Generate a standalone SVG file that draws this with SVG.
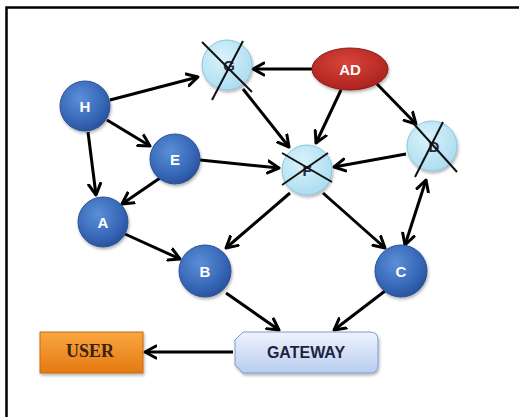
<svg xmlns="http://www.w3.org/2000/svg" width="519" height="417" viewBox="0 0 519 417">
<defs>
<radialGradient id="gBlue" cx="40%" cy="35%" r="70%">
<stop offset="0" stop-color="#5b8fd8"/>
<stop offset="0.7" stop-color="#3565b5"/>
<stop offset="1" stop-color="#274f98"/>
</radialGradient>
<radialGradient id="gLight" cx="40%" cy="35%" r="70%">
<stop offset="0" stop-color="#d8f3fb"/>
<stop offset="1" stop-color="#aadcef"/>
</radialGradient>
<radialGradient id="gRed" cx="45%" cy="35%" r="70%">
<stop offset="0" stop-color="#d9443b"/>
<stop offset="1" stop-color="#a8201b"/>
</radialGradient>
<linearGradient id="gOrange" x1="0" y1="0" x2="0" y2="1">
<stop offset="0" stop-color="#f9a640"/>
<stop offset="1" stop-color="#e47a12"/>
</linearGradient>
<linearGradient id="gGate" x1="0" y1="0" x2="0" y2="1">
<stop offset="0" stop-color="#eef3fd"/>
<stop offset="1" stop-color="#b9cdf0"/>
</linearGradient>
<filter id="sh" x="-30%" y="-30%" width="160%" height="160%">
<feDropShadow dx="1" dy="2" stdDeviation="1.5" flood-color="#000" flood-opacity="0.3"/>
</filter>
<marker id="ah" markerUnits="userSpaceOnUse" markerWidth="16" markerHeight="16" refX="12" refY="7" orient="auto-start-reverse" viewBox="0 0 16 14">
<path d="M1,1 L12,7 L1,13" fill="none" stroke="#000" stroke-width="3" stroke-linecap="round" stroke-linejoin="round"/>
</marker>
<style>
.edge{stroke:#000;stroke-width:3;fill:none;marker-end:url(#ah)}
.blue{fill:url(#gBlue);stroke:#2a5296;stroke-width:1;filter:url(#sh)}
.light{fill:url(#gLight);stroke:#8cc4dc;stroke-width:1;filter:url(#sh)}
.cross{stroke:#111;stroke-width:2;fill:none}
.lbl{font-family:"Liberation Sans",Arial,sans-serif;font-weight:bold;font-size:15px;fill:#fff;text-anchor:middle}
.dlbl{font-family:"Liberation Sans",Arial,sans-serif;font-weight:bold;font-size:15px;fill:#2a2a3a;text-anchor:middle}
</style>
</defs>
<rect x="0" y="0" width="519" height="417" fill="#fff"/>
<path d="M6.5,420 L6.5,7.5 L522,7.5" fill="none" stroke="#000" stroke-width="2.5"/>

<g id="connectors">
<line class="edge" x1="110" y1="100" x2="198" y2="77"/>
<line class="edge" x1="107" y1="120" x2="150" y2="146"/>
<line class="edge" x1="88" y1="132" x2="96" y2="195"/>
<line class="edge" x1="160" y1="178" x2="122" y2="204"/>
<line class="edge" x1="200" y1="160" x2="279" y2="168"/>
<line class="edge" x1="125" y1="234" x2="180" y2="259"/>
<line class="edge" x1="243" y1="89" x2="289" y2="147"/>
<line class="edge" x1="312" y1="69" x2="253" y2="69"/>
<line class="edge" x1="341" y1="90" x2="316" y2="143"/>
<line class="edge" x1="377" y1="84" x2="416" y2="124"/>
<line class="edge" x1="406" y1="154" x2="334" y2="167"/>
<line class="edge" x1="426" y1="180" x2="405" y2="245" style="marker-start:url(#ah)"/>
<line class="edge" x1="290" y1="193" x2="226" y2="248"/>
<line class="edge" x1="323" y1="193" x2="385" y2="248"/>
<line class="edge" x1="226" y1="293" x2="279" y2="330"/>
<line class="edge" x1="385" y1="291" x2="334" y2="330"/>
<line class="edge" x1="233" y1="352" x2="145" y2="352"/>
</g>

<g id="node-H"><circle class="blue" cx="85" cy="106" r="25"/><text class="lbl" x="85" y="112">H</text></g>
<g id="node-E"><circle class="blue" cx="175" cy="159" r="25"/><text class="lbl" x="175" y="165">E</text></g>
<g id="node-A"><circle class="blue" cx="103" cy="222" r="25"/><text class="lbl" x="103" y="228">A</text></g>
<g id="node-B"><circle class="blue" cx="205" cy="271" r="26"/><text class="lbl" x="205" y="277">B</text></g>
<g id="node-C"><circle class="blue" cx="401" cy="271" r="26"/><text class="lbl" x="401" y="277">C</text></g>

<g id="node-G"><circle class="light" cx="227" cy="65" r="25"/><text class="dlbl" x="229" y="71">G</text>
<line class="cross" x1="202" y1="42" x2="252" y2="92"/><line class="cross" x1="243" y1="41" x2="212" y2="100"/></g>
<g id="node-F"><circle class="light" cx="307" cy="170" r="25"/><text class="dlbl" x="307" y="176">F</text>
<line class="cross" x1="282" y1="153" x2="332" y2="182"/><line class="cross" x1="328" y1="153" x2="282" y2="185"/></g>
<g id="node-D"><circle class="light" cx="432" cy="146" r="25"/><text class="dlbl" x="434" y="152">D</text>
<line class="cross" x1="413" y1="123" x2="457" y2="172"/><line class="cross" x1="443" y1="122" x2="415" y2="177"/></g>

<g id="node-AD"><ellipse cx="350" cy="69" rx="38" ry="21" fill="url(#gRed)" stroke="#8e1a16" stroke-width="1" filter="url(#sh)"/><text class="lbl" x="350" y="75" font-size="16">AD</text></g>

<g id="node-GATEWAY"><path d="M243,332 L370,332 Q378,332 378,340 L378,365 Q378,373 370,373 L243,373 L235,365 L235,340 Z" fill="url(#gGate)" stroke="#7f9ccc" stroke-width="1" filter="url(#sh)"/>
<text x="306" y="358" font-family="'Liberation Sans',Arial,sans-serif" font-weight="bold" font-size="16" fill="#1e2340" text-anchor="middle">GATEWAY</text></g>

<g id="node-USER"><rect x="40" y="332" width="103" height="41" fill="url(#gOrange)" stroke="#c9680f" stroke-width="1" filter="url(#sh)"/>
<text x="90" y="357" font-family="'Liberation Serif','Times New Roman',serif" font-weight="bold" font-size="18" fill="#3b2210" text-anchor="middle">USER</text></g>
</svg>
